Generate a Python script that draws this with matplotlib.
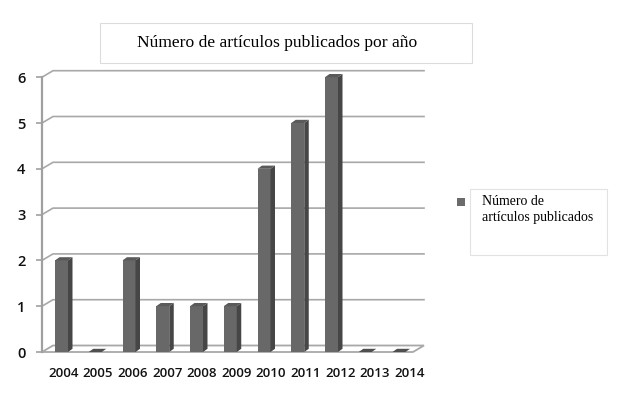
import matplotlib
matplotlib.use("Agg")
import matplotlib.pyplot as plt
from matplotlib.patches import Polygon, Rectangle
import numpy as np

# ---------------- data ----------------
years = ["2004", "2005", "2006", "2007", "2008", "2009", "2010", "2011", "2012", "2013", "2014"]
articles = [2, 0, 2, 1, 1, 1, 4, 5, 6, 0, 0]
yticks = [0, 1, 2, 3, 4, 5, 6]
title = "Número de artículos publicados por año"
series_name = "Número de\nartículos publicados"

# ---------------- layout ----------------
W, H, DPI = 617, 399, 100
fig = plt.figure(figsize=(W / DPI, H / DPI), dpi=DPI)
fig.patch.set_facecolor("white")

# pixel mapping helpers (for layout only)
px_per_cat = 33.75
px_per_val = 45.8
cat0_px = 61.5
zero_px = 352.0
L_px, R_px, B_px, T_px = 36, 430, 360, 62
ax = fig.add_axes([L_px / W, (H - B_px) / H, (R_px - L_px) / W, (B_px - T_px) / H])
ax.set_xlim((L_px - cat0_px) / px_per_cat, (R_px - cat0_px) / px_per_cat)
ax.set_ylim((zero_px - B_px) / px_per_val, (zero_px - T_px) / px_per_val)
ax.patch.set_alpha(0)

x = np.arange(len(years))
x0 = (42 - cat0_px) / px_per_cat          # front y-axis position
xend = (424 - cat0_px) / px_per_cat        # back right end
ddx = 11 / px_per_cat                      # wall depth
ddy = 6.5 / px_per_val
grid_c = "#a8a8a8"

# back wall gridlines (with diagonal from the front axis)
for v in yticks[1:]:
    ax.plot([x0, x0 + ddx, xend], [v, v + ddy, v + ddy], color=grid_c, lw=1.2,
            solid_joinstyle="miter", zorder=1)

# floor
floor = Polygon([(x0, 0), (xend - ddx, 0), (xend, ddy), (x0 + ddx, ddy)],
                closed=True, facecolor="white", edgecolor=grid_c, lw=1.3, zorder=1)
ax.add_patch(floor)

# bars (front face + side + top)
w = 13 / px_per_cat
sd = 4.5 / px_per_cat
sdy = 3.2 / px_per_val
ax.bar(x, articles, width=w, color="#686868", edgecolor="none", zorder=3)
for xi, v in zip(x, articles):
    side = Polygon([(xi + w / 2, 0), (xi + w / 2 + sd, sdy), (xi + w / 2 + sd, v + sdy), (xi + w / 2, v)],
                   closed=True, facecolor="#464646", edgecolor="none", zorder=3)
    top = Polygon([(xi - w / 2, v), (xi + w / 2, v), (xi + w / 2 + sd, v + sdy), (xi - w / 2 + sd, v + sdy)],
                  closed=True, facecolor="#4f4f4f" if v == 0 else "#5a5a5a", edgecolor="none", zorder=4)
    ax.add_patch(side)
    ax.add_patch(top)

# axes styling
for s in ["top", "right", "bottom"]:
    ax.spines[s].set_visible(False)
ax.spines["left"].set_position(("data", x0))
ax.spines["left"].set_bounds(0, 6)
ax.spines["left"].set_color("#a0a0a0")
ax.spines["left"].set_linewidth(1.6)
ax.set_yticks(yticks)
ax.set_yticklabels([str(t) for t in yticks])
ax.tick_params(axis="y", direction="out", length=4, width=1.2, color="#a0a0a0",
               pad=8, labelsize=10.5, labelcolor="#111111")
ax.set_xticks(x * 1.025 + 0.06)
ax.set_xticklabels(years)
ax.tick_params(axis="x", length=0, pad=5, labelsize=9.5, labelcolor="#111111")
for lab in ax.get_xticklabels() + ax.get_yticklabels():
    lab.set_fontfamily("Open Sans")
    lab.set_fontweight("semibold")

# title box
fig.patches.append(Rectangle((100 / W, 1 - 63 / H), 372 / W, 40 / H, transform=fig.transFigure,
                             facecolor="white", edgecolor="#dcdcdc", lw=0.8))
fig.text(277.5 / W, 1 - 43 / H, title, ha="center", va="center",
         fontsize=12.6, family="Liberation Serif", color="#000000")

# legend
fig.patches.append(Rectangle((470 / W, 1 - 255 / H), 137 / W, 66 / H, transform=fig.transFigure,
                             facecolor="white", edgecolor="#e2e2e2", lw=0.8))
fig.patches.append(Rectangle((457 / W, 1 - 206 / H), 8 / W, 8 / H, transform=fig.transFigure,
                             facecolor="#6b6b6b", edgecolor="none"))
fig.text(482 / W, 1 - 195 / H, series_name, ha="left", va="top", fontsize=10,
         family="Liberation Serif", color="#000000", linespacing=1.3)

fig.savefig("out.png", dpi=DPI, facecolor="white")
